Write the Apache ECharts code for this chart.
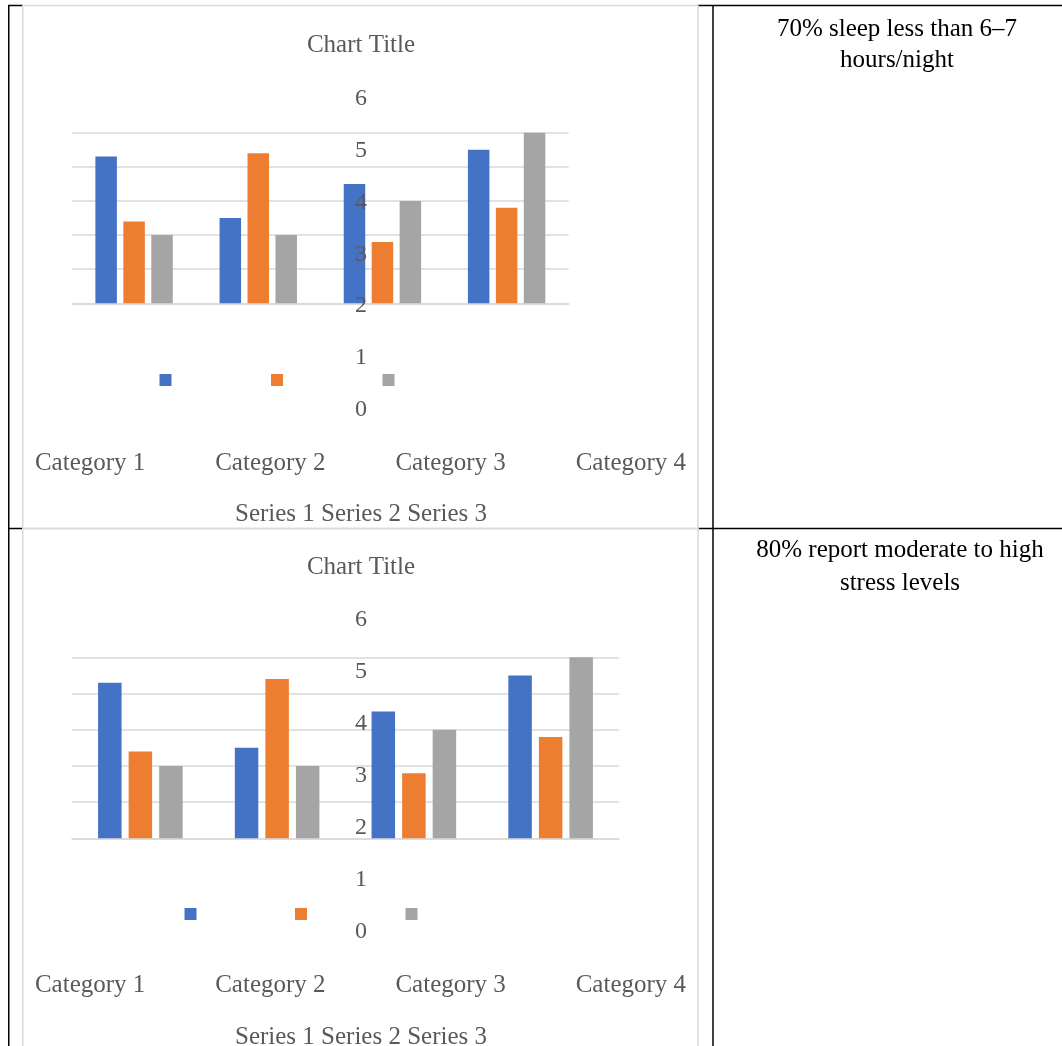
<!DOCTYPE html>
<html>
<head>
<meta charset="utf-8">
<script src="https://cdn.jsdelivr.net/npm/echarts@6/dist/echarts.min.js"></script>
<style>
html,body{margin:0;padding:0;background:#ffffff;}
#chart{width:1062px;height:1046px;}
</style>
</head>
<body>
<div id="chart"></div>
<script>
// ---------- data ----------
const categories = ['Category 1', 'Category 2', 'Category 3', 'Category 4'];
const seriesNames = ['Series 1', 'Series 2', 'Series 3'];
const series1 = [4.3, 2.5, 3.5, 4.5];
const series2 = [2.4, 4.4, 1.8, 2.8];
const series3 = [2, 2, 3, 5];
const chartTitle = 'Chart Title';
const legendLine = 'Series 1 Series 2 Series 3';
const note1 = ['70% sleep less than 6–7', 'hours/night'];
const note2 = ['80% report moderate to high', 'stress levels'];

// ---------- styles ----------
const serif = "'Liberation Serif','Times New Roman',serif";
const textGray = '#595959';
const gridGray = '#d9d9d9';
const colors = ['#4472C4', '#ED7D31', '#A5A5A5'];
const seriesData = [series1, series2, series3];

function label(x, y, s, size, color) {
  return { type: 'text', x: x, y: y, silent: true, z: 100,
    style: { text: s, fontSize: size, fontFamily: serif, fill: color, align: 'center', verticalAlign: 'middle' } };
}
function hline(x1, x2, y, color) {
  return { type: 'line', silent: true, shape: { x1: x1, y1: y, x2: x2, y2: y }, style: { stroke: color, lineWidth: 1.5 } };
}
function vline(x, y1, y2, color) {
  return { type: 'line', silent: true, shape: { x1: x, y1: y1, x2: x, y2: y2 }, style: { stroke: color, lineWidth: 1.5 } };
}

// chart panel layout (two stacked copies)
const panels = [
  { bar: { left: 72, top: 132.7, width: 496.7, height: 170.6 }, barWidth: 21.5,
    ylab: { top: 98.5, height: 311.5 }, catY: 463, titleY: 45, legendY: 514,
    legendLeft: 159.5, legendTop: 374, legendGap: 99.5 },
  { bar: { left: 72, top: 657.3, width: 547, height: 181 }, barWidth: 23.5,
    ylab: { top: 619.5, height: 312.5 }, catY: 985, titleY: 567, legendY: 1037,
    legendLeft: 184.5, legendTop: 908, legendGap: 98.5 }
];

const grid = [], xAxis = [], yAxis = [], series = [], legend = [], graphics = [];

panels.forEach(function (p, pi) {
  const g0 = grid.length;
  grid.push(Object.assign({}, p.bar));
  grid.push({ left: 361, top: p.ylab.top, width: 1, height: p.ylab.height });
  grid.push({ left: 0, top: p.catY - 11, width: 721, height: 1 });

  // bar axes
  xAxis.push({ type: 'category', gridIndex: g0, data: categories,
    axisLine: { show: true, lineStyle: { color: gridGray, width: 1.5 } },
    axisTick: { show: false }, axisLabel: { show: false } });
  yAxis.push({ type: 'value', gridIndex: g0, min: 0, max: 5, interval: 1,
    axisLine: { show: false }, axisTick: { show: false }, axisLabel: { show: false },
    splitLine: { show: true, lineStyle: { color: gridGray, width: 1.5 } } });

  // displaced value-axis labels (drawn above the bars)
  xAxis.push({ type: 'value', gridIndex: g0 + 1, show: false });
  yAxis.push({ type: 'value', gridIndex: g0 + 1, min: 0, max: 6, interval: 1, z: 50,
    axisLine: { show: false }, axisTick: { show: false }, splitLine: { show: false },
    axisLabel: { show: true, align: 'center', margin: 0, fontSize: 24, fontFamily: serif, color: textGray } });

  // displaced category labels
  xAxis.push({ type: 'category', gridIndex: g0 + 2, data: categories,
    axisLine: { show: false }, axisTick: { show: false }, splitLine: { show: false },
    axisLabel: { show: true, interval: 0, margin: 10, verticalAlign: 'middle', fontSize: 25, fontFamily: serif, color: textGray } });
  yAxis.push({ type: 'value', gridIndex: g0 + 2, show: false });

  seriesNames.forEach(function (name, si) {
    series.push({ type: 'bar', name: name, xAxisIndex: g0, yAxisIndex: g0, z: 2,
      data: seriesData[si], barWidth: p.barWidth, barGap: '30%', barCategoryGap: '0%',
      itemStyle: { color: colors[si] } });
  });

  legend.push({ data: seriesNames, left: p.legendLeft, top: p.legendTop, padding: 0,
    orient: 'horizontal', itemWidth: 12, itemHeight: 12, itemGap: p.legendGap, icon: 'rect',
    selectedMode: false, formatter: function () { return ''; },
    textStyle: { fontSize: 1 } });

  graphics.push(label(361, p.titleY, chartTitle, 25, textGray));
  graphics.push(label(361, p.legendY, legendLine, 25, textGray));
});

// table borders and chart frames
graphics.push(vline(8.75, 5, 1046, '#000'));
graphics.push(vline(713, 5, 1046, '#000'));
graphics.push(hline(8, 23, 5.5, '#000'));
graphics.push(hline(697.5, 1062, 5.5, '#000'));
graphics.push(hline(8, 23, 528.5, '#000'));
graphics.push(hline(698, 1062, 528.5, '#000'));
graphics.push({ type: 'rect', silent: true, shape: { x: 22.75, y: 5.5, width: 675.25, height: 523 },
  style: { fill: 'none', stroke: gridGray, lineWidth: 1.5 } });
graphics.push({ type: 'rect', silent: true, shape: { x: 22.75, y: 528.5, width: 675.25, height: 530 },
  style: { fill: 'none', stroke: gridGray, lineWidth: 1.5 } });

// right column notes
graphics.push(label(897, 29, note1[0], 25, '#000'));
graphics.push(label(897, 60, note1[1], 25, '#000'));
graphics.push(label(900, 550, note2[0], 25, '#000'));
graphics.push(label(900, 583, note2[1], 25, '#000'));

const chart = echarts.init(document.getElementById('chart'), null, { renderer: 'canvas' });
chart.setOption({
  animation: false,
  backgroundColor: '#ffffff',
  grid: grid,
  xAxis: xAxis,
  yAxis: yAxis,
  legend: legend,
  series: series,
  graphic: { elements: graphics }
});
</script>
</body>
</html>
